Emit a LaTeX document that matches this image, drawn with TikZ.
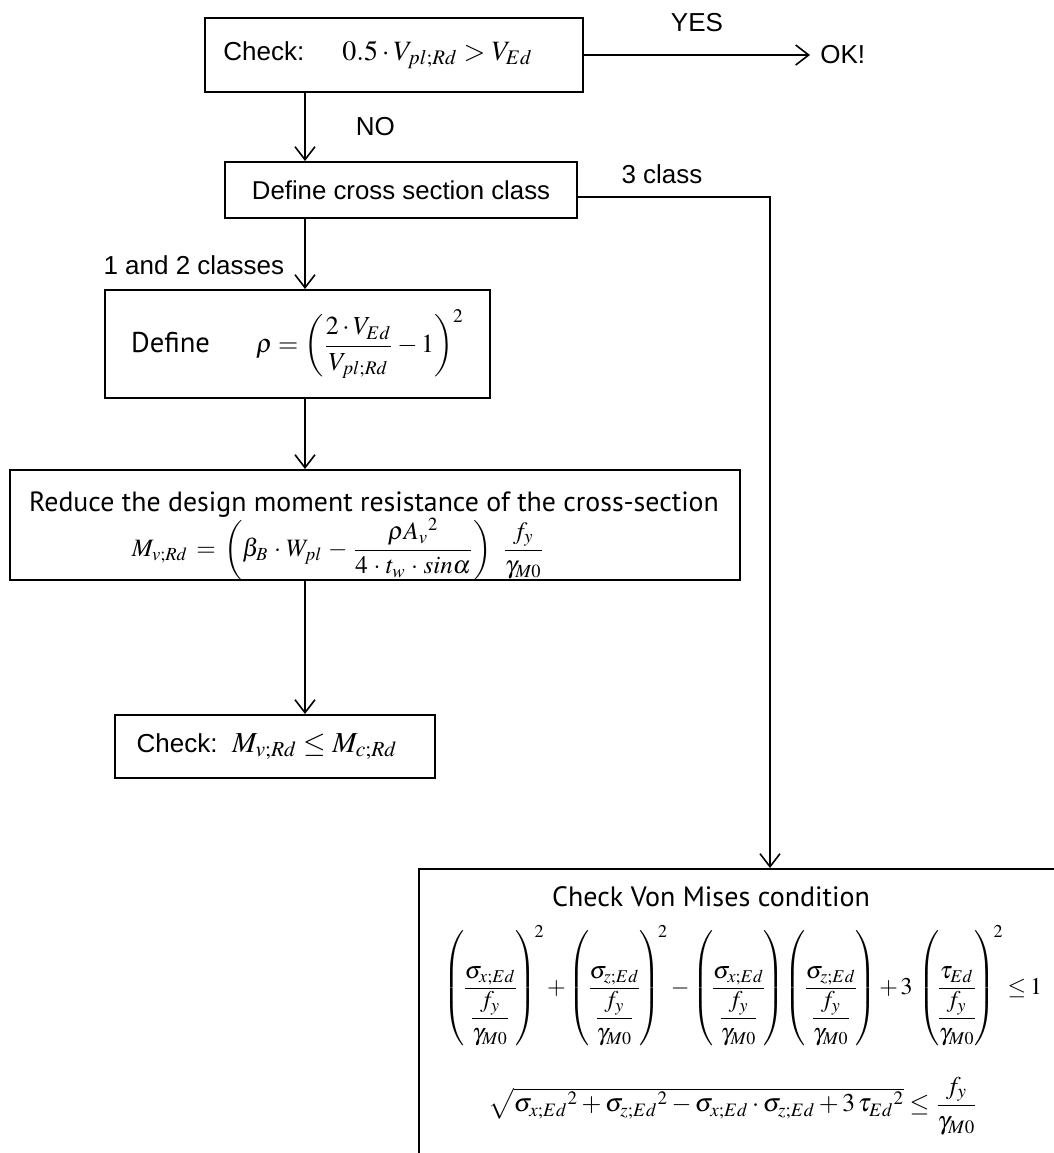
\documentclass[tikz,border=0pt]{standalone}
\usepackage{amsmath}
\usepackage{mathptmx}
\usepackage{fontspec}
\newfontfamily\arialfont{Liberation Sans}
\newfontfamily\condfont{PT Sans}
\usetikzlibrary{positioning,arrows.meta}

\newcommand{\overfy}[1]{\left(\dfrac{#1}{\dfrac{f_y}{\gamma_{M0}}}\right)}

\tikzset{
  box/.style={draw, line width=1pt, rectangle, inner sep=0pt, align=center,
              font=\arialfont\fontsize{13}{15}\selectfont},
  flow/.style={line width=0.8pt, -{Straight Barb[length=6.5pt,width=10pt,line width=0.8pt]}},
  lbl/.style={font=\arialfont\fontsize{13}{15}\selectfont, inner sep=0pt},
}

\begin{document}
\begin{tikzpicture}[x=0.5pt,y=-0.5pt]
\useasboundingbox (0,0) rectangle (1054,1153);
\coordinate (spine) at (305,0);
\coordinate (side) at (770,0);

% boxes
\node[box, minimum width=189pt, minimum height=37pt] (check1) at (394,55)
  {Check:\hspace{19pt}{\fontsize{14}{16}\selectfont$0.5\cdot V_{pl;Rd}>V_{Ed}$}\hspace*{16pt}};
\node[box, minimum width=176pt, minimum height=28pt,
      font=\arialfont\fontsize{12.9}{14}\selectfont] (sect) at (401,190)
  {Define cross section class};
\node[box, minimum width=192.5pt, minimum height=54pt] (rho) at (297.5,344)
  {{\condfont\fontsize{14.3}{16}\selectfont Define}\hspace{23pt}{\fontsize{13}{15}\selectfont
   $\rho=\left(\dfrac{2\cdot V_{Ed}}{V_{pl;Rd}}-1\right)^{2}$}};
\node[box, minimum width=365pt, minimum height=55pt] (moment) at (375,525) {};
\node[box, minimum width=160pt, minimum height=31.5pt] (check2) at (275,746.5)
  {Check:\ \ {\fontsize{14.5}{16}\selectfont$M_{v;Rd}\le M_{c;Rd}$}\hspace*{8pt}};
\node[box, anchor=north west, minimum width=331pt, minimum height=156pt] (vm) at (418,868) {};

% moment texts
\node[inner sep=0pt, font=\condfont\fontsize{13.9}{16}\selectfont] (mtitle) at (374,505)
  {Reduce the design moment resistance of the cross-section};
\node[inner sep=0pt, font=\fontsize{12.5}{14}\selectfont] (mform) at (338,549)
  {\delimiterfactor=800\medmuskip=4mu\thickmuskip=6mu
   $M_{v;Rd}=\left(\beta_B\cdot W_{pl}-\dfrac{\rho A_v{}^{2}}{4\cdot t_w\cdot sin\alpha}\right)\;\dfrac{f_y}{\gamma_{M0}}$};

% von Mises texts
\node[inner sep=0pt, font=\condfont\fontsize{14}{16}\selectfont] (vmtitle) at (711,897)
  {Check Von Mises condition};
\node[inner sep=0pt, font=\fontsize{12}{14}\selectfont] (vmone) at (743,986)
  {\nulldelimiterspace=0pt\medmuskip=2mu\thickmuskip=3mu
   $\overfy{\sigma_{x;Ed}}^{\!2}+\overfy{\sigma_{z;Ed}}^{\!2}
   -\overfy{\sigma_{x;Ed}}\!\overfy{\sigma_{z;Ed}}
   +3\,\overfy{\tau_{Ed}}^{\!2}\le 1$};
\node[inner sep=0pt, font=\fontsize{12.8}{14}\selectfont] (vmtwo) at (733,1106)
  {$\sqrt{\sigma_{x;Ed}{}^{2}+\sigma_{z;Ed}{}^{2}-\sigma_{x;Ed}\cdot\sigma_{z;Ed}+3\,\tau_{Ed}{}^{2}}
   \le\dfrac{f_y}{\gamma_{M0}}$};

% labels
\node[lbl, anchor=west] (ok) at (820,55) {OK!};

% connectors
\draw[flow] (check1.east) -- node[lbl, above=11pt] {YES} ([xshift=-5pt]ok.west);
\draw[flow] (check1.south -| spine) -- node[lbl, right=25pt] {NO} (sect.north -| spine);
\draw[flow] (sect.south -| spine) -- node[lbl, left=10pt, yshift=-5.5pt] {1 and 2 classes} (rho.north -| spine);
\draw[flow] (rho.south -| spine) -- (moment.north -| spine);
\draw[flow] (moment.south -| spine) -- (check2.north -| spine);
\draw[flow] ([yshift=-3.5pt]sect.east) -- node[lbl, above=6pt, xshift=-6pt] {3 class}
  ([yshift=-3.5pt]sect.east -| side) -- (vm.north -| side);
\end{tikzpicture}
\end{document}
